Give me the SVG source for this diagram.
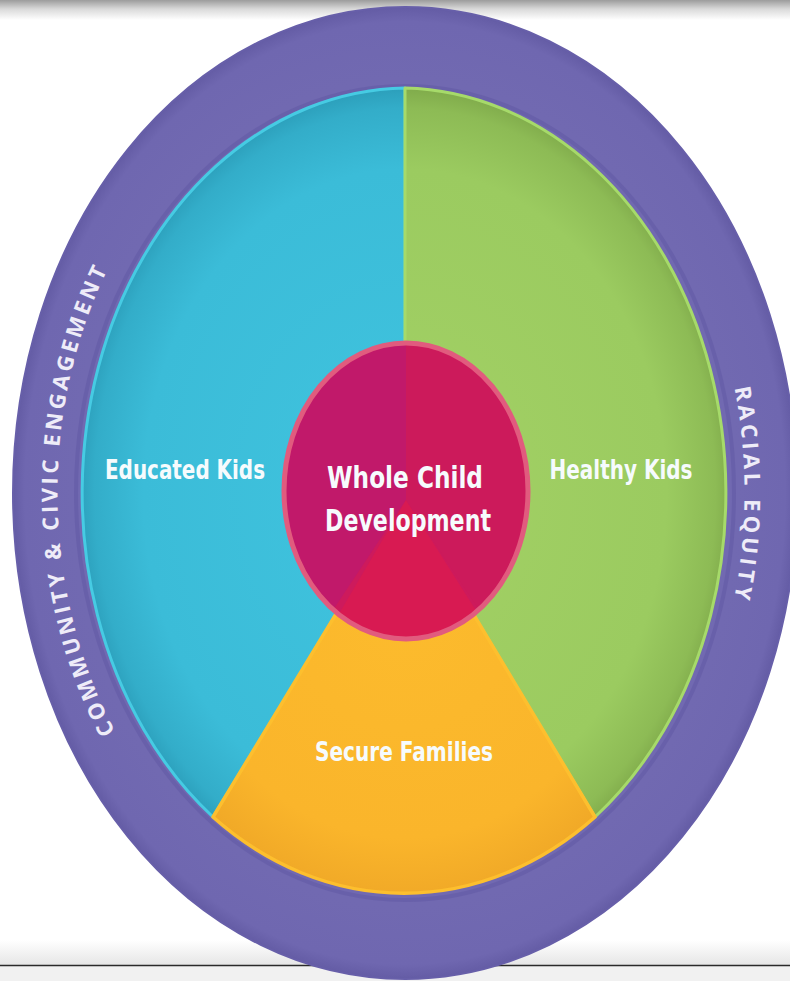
<svg xmlns="http://www.w3.org/2000/svg" width="790" height="981" viewBox="0 0 790 981">
  <style>
    .lbl { font-family: "Liberation Sans Narrow", "DejaVu Sans Condensed", "Liberation Sans", sans-serif; fill: #f6fbfd; text-anchor: middle; }
    .ring { font-family: "Open Sans", "DejaVu Sans", sans-serif; font-weight: 700; fill: #eeecf8; font-size: 22px; }
  </style>
  <defs>
    <linearGradient id="topShade" x1="0" y1="0" x2="0" y2="1">
      <stop offset="0" stop-color="#9c9c9c"/>
      <stop offset="0.45" stop-color="#d9d9d9"/>
      <stop offset="1" stop-color="#ffffff"/>
    </linearGradient>
    <linearGradient id="botShade" x1="0" y1="0" x2="0" y2="1">
      <stop offset="0" stop-color="#ffffff"/>
      <stop offset="1" stop-color="#e6e6e6"/>
    </linearGradient>
    <radialGradient id="gBlue" gradientUnits="userSpaceOnUse" cx="0" cy="0" r="1" gradientTransform="translate(405 493) scale(327 405)">
      <stop offset="0" stop-color="#40c4df"/>
      <stop offset="0.8" stop-color="#3bbcd8"/>
      <stop offset="0.95" stop-color="#33adc9"/>
      <stop offset="1" stop-color="#2c9fbb"/>
    </radialGradient>
    <radialGradient id="gGreen" gradientUnits="userSpaceOnUse" cx="0" cy="0" r="1" gradientTransform="translate(405 493) scale(327 405)">
      <stop offset="0" stop-color="#a3d165"/>
      <stop offset="0.8" stop-color="#9bcb60"/>
      <stop offset="0.95" stop-color="#8dbb55"/>
      <stop offset="1" stop-color="#80ab4b"/>
    </radialGradient>
    <radialGradient id="gYellow" cx="0.5" cy="0.3" r="0.8">
      <stop offset="0" stop-color="#fcbb2d"/>
      <stop offset="0.7" stop-color="#fab52b"/>
      <stop offset="1" stop-color="#eba225"/>
    </radialGradient>
    <radialGradient id="gPurple" cx="0.5" cy="0.5" r="0.5">
      <stop offset="0.85" stop-color="#7169b1"/>
      <stop offset="0.97" stop-color="#6f67b0"/>
      <stop offset="1" stop-color="#645ca5"/>
    </radialGradient>
    <clipPath id="coreClip">
      <ellipse cx="406" cy="491" rx="122" ry="148"/>
    </clipPath>
    <path id="leftArc" d="M 405 925 A 346 430 0 0 1 405 61"/>
    <path id="rightArc" d="M 405 61 A 338 430 0 0 1 405 925"/>
  </defs>

  <rect x="0" y="0" width="790" height="981" fill="#ffffff"/>
  <rect x="0" y="0" width="790" height="20" fill="url(#topShade)"/>
  <rect x="0" y="940" width="790" height="25" fill="url(#botShade)"/>
  <rect x="0" y="966" width="790" height="15" fill="#f1f1f1"/>
  <line x1="0" y1="965.5" x2="790" y2="965.5" stroke="#2a2a2a" stroke-width="1.5"/>

  <g id="ring-outer">
    <ellipse cx="405" cy="493" rx="392" ry="486" fill="url(#gPurple)" stroke="#675fa9" stroke-width="2"/>
    <ellipse cx="405" cy="493" rx="329" ry="407" fill="none" stroke="#655da7" stroke-width="4" opacity="0.7"/>
  </g>

  <g id="educated-kids">
    <path d="M 405 500 L 405 88 A 327 405 0 0 0 213 817 Z" fill="url(#gBlue)" stroke="#46cbe3" stroke-width="3" stroke-linejoin="round"/>
    <text class="lbl" x="185" y="479" font-size="26" font-weight="600" textLength="160" lengthAdjust="spacingAndGlyphs">Educated Kids</text>
  </g>

  <g id="healthy-kids">
    <path d="M 405 500 L 405 88 A 327 405 0 0 1 595 817 Z" fill="url(#gGreen)" stroke="#a6da6a" stroke-width="3" stroke-linejoin="round"/>
    <text class="lbl" x="621" y="479" font-size="26" font-weight="600" textLength="143" lengthAdjust="spacingAndGlyphs">Healthy Kids</text>
  </g>

  <g id="secure-families">
    <path d="M 405 500 L 595 817 A 327 405 0 0 1 213 817 Z" fill="url(#gYellow)" stroke="#fdbf2e" stroke-width="3.5" stroke-linejoin="round"/>
    <text class="lbl" x="404" y="761" font-size="26" font-weight="600" textLength="178" lengthAdjust="spacingAndGlyphs">Secure Families</text>
  </g>

  <g id="whole-child-development">
    <g clip-path="url(#coreClip)">
      <rect x="280" y="340" width="260" height="310" fill="#cd1a5c"/>
      <path d="M 406 500 L 406 330 L 270 330 L 270 660 L 300 660 Z" fill="#c1196a"/>
      <path d="M 406 500 L 300 680 L 520 680 Z" fill="#d81a52"/>
      <path d="M 406 500 L 406 330 L 540 330 L 540 660 L 512 660 Z" fill="#cc1a5b"/>
    </g>
    <ellipse cx="406" cy="491" rx="122" ry="148" fill="none" stroke="#e15b7e" stroke-width="5"/>
    <text class="lbl" x="405" y="488" font-size="30" font-weight="700" textLength="156" lengthAdjust="spacingAndGlyphs">Whole Child</text>
    <text class="lbl" x="408" y="531" font-size="30" font-weight="700" textLength="166" lengthAdjust="spacingAndGlyphs">Development</text>
  </g>

  <g id="ring-labels">
    <text class="ring"><textPath href="#leftArc" startOffset="605" text-anchor="middle" textLength="478" lengthAdjust="spacing">COMMUNITY &amp; CIVIC ENGAGEMENT</textPath></text>
    <text class="ring" font-size="21"><textPath href="#rightArc" startOffset="608" text-anchor="middle" textLength="212" lengthAdjust="spacing">RACIAL EQUITY</textPath></text>
  </g>
</svg>
